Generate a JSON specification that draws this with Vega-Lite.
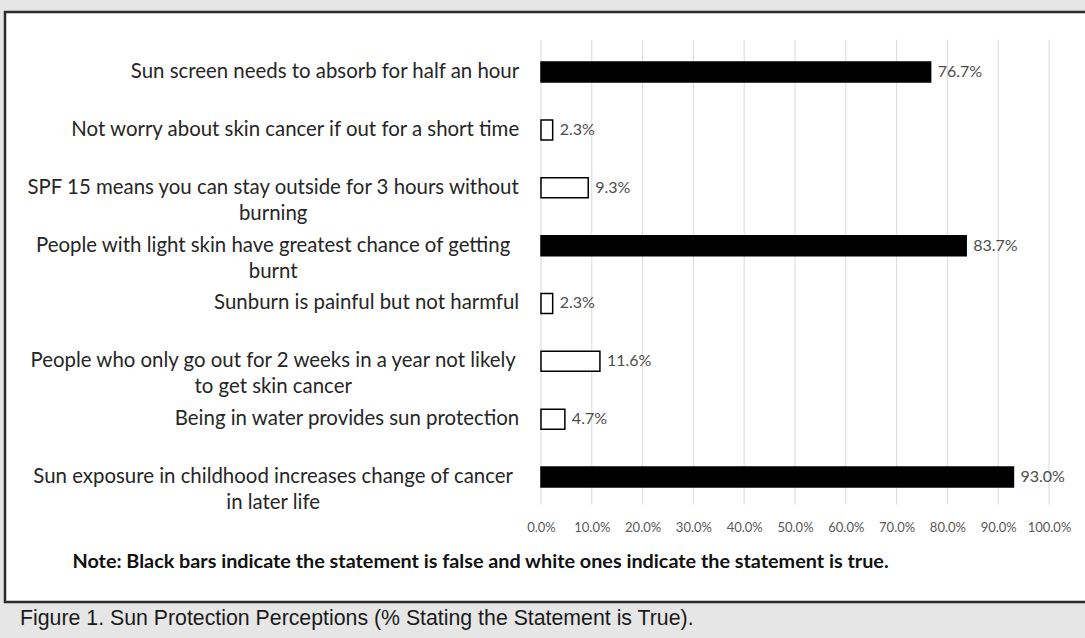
{
  "$schema": "https://vega.github.io/schema/vega-lite/v6.json",
  "width": 1082,
  "height": 590,
  "autosize": {"type": "none"},
  "padding": {"left": 5, "top": 12, "right": 0, "bottom": 36},
  "background": "#e6e6e6",
  "config": {"view": {"fill": "white", "stroke": "#2b2b2b", "strokeWidth": 2.5}},
  "title": {
    "text": "Figure 1. Sun Protection Perceptions (% Stating the Statement is True).",
    "orient": "bottom", "anchor": "start", "dx": 15, "offset": 6,
    "font": "Liberation Sans", "fontSize": 21.3, "fontWeight": "normal", "color": "#1a1a1a"
  },
  "datasets": {
    "statements": [
      {"rank": 1, "statement": "Sun screen needs to absorb for half an hour", "pct": 0.767, "answer": "False"},
      {"rank": 2, "statement": "Not worry about skin cancer if out for a short time", "pct": 0.023, "answer": "True"},
      {"rank": 3, "statement": "SPF 15 means you can stay outside for 3 hours without\nburning", "pct": 0.093, "answer": "True"},
      {"rank": 4, "statement": "People with light skin have greatest chance of getting\nburnt", "pct": 0.837, "answer": "False"},
      {"rank": 5, "statement": "Sunburn is painful but not harmful", "pct": 0.023, "answer": "True"},
      {"rank": 6, "statement": "People who only go out for 2 weeks in a year not likely\nto get skin cancer", "pct": 0.116, "answer": "True"},
      {"rank": 7, "statement": "Being in water provides sun protection", "pct": 0.047, "answer": "True"},
      {"rank": 8, "statement": "Sun exposure in childhood increases change of cancer\nin later life", "pct": 0.93, "answer": "False"}
    ],
    "grid": [
      {"tick": 0}, {"tick": 0.1}, {"tick": 0.2}, {"tick": 0.3}, {"tick": 0.4}, {"tick": 0.5},
      {"tick": 0.6}, {"tick": 0.7}, {"tick": 0.8}, {"tick": 0.9}, {"tick": 1.0}
    ]
  },
  "data": {"name": "statements"},
  "layer": [
    {
      "data": {"name": "grid"},
      "mark": {"type": "rule", "color": "#d9d9d9", "strokeWidth": 1},
      "encoding": {
        "x": {
          "field": "tick", "type": "quantitative",
          "scale": {"domain": [-1.0551, 1.0748], "nice": false, "zero": false},
          "axis": {
            "values": [0, 0.1, 0.2, 0.3, 0.4, 0.5, 0.6, 0.7, 0.8, 0.9, 1.0],
            "format": ".1%", "offset": -94, "domain": false, "ticks": false, "grid": false,
            "labelFont": "Lato", "labelFontSize": 13, "labelColor": "#595959", "labelPadding": 13,
            "title": "Note: Black bars indicate the statement is false and white ones indicate the statement is true.",
            "titleAnchor": "start", "titleAlign": "left", "titleX": 67, "titleY": 53, "titleBaseline": "middle",
            "titleFont": "Lato", "titleFontSize": 19.8, "titleFontWeight": "bold", "titleColor": "#111111"
          }
        },
        "y": {"datum": 0.4394, "type": "quantitative",
          "scale": {"domain": [0.0486, 10.0726], "reverse": true, "nice": false, "zero": false}, "axis": null},
        "y2": {"datum": 8.475}
      }
    },
    {
      "mark": {"type": "bar", "orient": "horizontal", "size": 20, "stroke": "#000000", "strokeWidth": 1.5},
      "encoding": {
        "x": {"field": "pct", "type": "quantitative"},
        "y": {"field": "rank", "type": "quantitative", "axis": null},
        "fill": {"field": "answer", "type": "nominal",
          "scale": {"domain": ["False", "True"], "range": ["#000000", "#ffffff"]}, "legend": null}
      }
    },
    {
      "mark": {"type": "text", "align": "left", "baseline": "middle", "dx": 7, "font": "Lato", "fontSize": 16, "color": "#4d4d4d"},
      "encoding": {
        "x": {"field": "pct", "type": "quantitative"},
        "y": {"field": "rank", "type": "quantitative", "axis": null},
        "text": {"field": "pct", "type": "quantitative", "format": ".1%"}
      }
    },
    {
      "transform": [{"filter": "indexof(datum.statement, '\\n') < 0"}],
      "mark": {"type": "text", "align": "right", "baseline": "middle", "font": "Lato", "fontSize": 20.4, "color": "#262626"},
      "encoding": {
        "x": {"datum": -0.043, "type": "quantitative"},
        "y": {"field": "rank", "type": "quantitative", "axis": null},
        "text": {"field": "statement", "type": "nominal"}
      }
    },
    {
      "transform": [{"filter": "indexof(datum.statement, '\\n') >= 0"}],
      "mark": {"type": "text", "align": "center", "baseline": "middle", "dx": -246, "lineBreak": "\n", "lineHeight": 26, "font": "Lato", "fontSize": 20.4, "color": "#262626"},
      "encoding": {
        "x": {"datum": -0.043, "type": "quantitative"},
        "y": {"field": "rank", "type": "quantitative", "axis": null},
        "text": {"field": "statement", "type": "nominal"}
      }
    }
  ]
}
